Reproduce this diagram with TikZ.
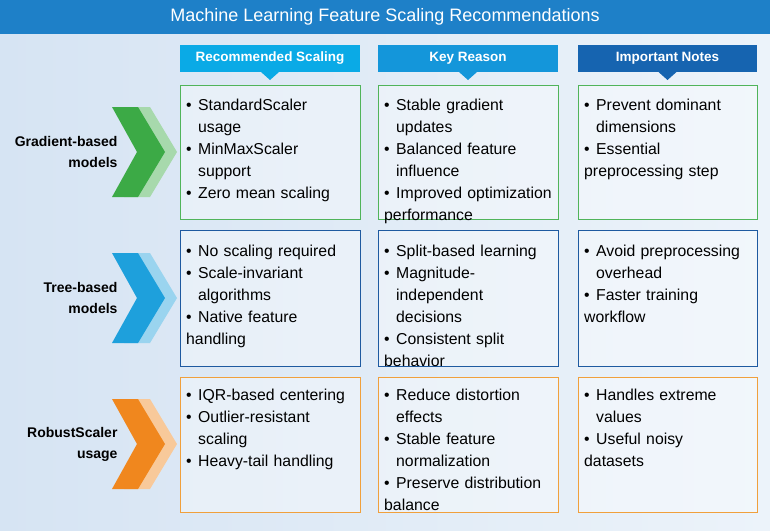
\documentclass[tikz,border=0pt]{standalone}
\usepackage{fontspec}
\setmainfont{Liberation Sans}
\usetikzlibrary{positioning}
\definecolor{titleBlue}{RGB}{30,128,200}
\definecolor{headA}{RGB}{10,170,230}
\definecolor{headB}{RGB}{20,150,218}
\definecolor{headC}{RGB}{22,100,176}
\definecolor{rowGreen}{RGB}{80,180,90}
\definecolor{rowBlue}{RGB}{30,90,160}
\definecolor{rowOrange}{RGB}{240,160,60}
\definecolor{chevGreen}{RGB}{60,170,70}
\definecolor{chevBlue}{RGB}{30,160,220}
\definecolor{chevOrange}{RGB}{240,135,30}
\definecolor{bgLeft}{RGB}{214,228,243}
\definecolor{bgRight}{RGB}{236,243,250}
\tikzstyle{cellBox} = [fill=white, fill opacity=.35, line width=1pt]
\tikzstyle{cellText} = [anchor=north west, align=left, text width=174pt, font=\fontsize{15.8pt}{22pt}\selectfont, inner sep=0pt]
\tikzstyle{headText} = [text=white, font=\bfseries\fontsize{13.5pt}{16pt}\selectfont]
\tikzstyle{rowLabel} = [anchor=east, align=right, font=\bfseries\fontsize{14pt}{21pt}\selectfont]
\newcommand{\bul}{\par\hangindent=12pt\hangafter=1\makebox[12pt][l]{\textbullet}}
\newcommand{\chevron}[2]{
  \fill [#2!45] (124,#1-45) -- (150,#1-45) -- (177,#1) -- (150,#1+45) -- (124,#1+45) -- (149,#1) -- cycle;
  \fill [#2] (112,#1-45) -- (138,#1-45) -- (165,#1) -- (138,#1+45) -- (112,#1+45) -- (137,#1) -- cycle;
}
\newcommand{\header}[4]{
  \fill [#3] (#1,45) rectangle (#2,72);
  \fill [#3] ({(#1+#2)/2-9},72) -- ({(#1+#2)/2},80) -- ({(#1+#2)/2+9},72) -- cycle;
  \node [headText] (h#3) at ({(#1+#2)/2},58.5) {#4};
}
\begin{document}
\begin{tikzpicture}[x=1pt, y=-1pt]
  \shade [left color=bgLeft, right color=bgRight] (0,0) rectangle (770,530);
  \fill [titleBlue] (0,0) rectangle (770,34);
  \node [text=white, font=\fontsize{18pt}{20pt}\selectfont] (title) at (385,17) {Machine Learning Feature Scaling Recommendations};

  \header{180}{360}{headA}{Recommended Scaling}
  \header{378}{558}{headB}{Key Reason}
  \header{578}{757}{headC}{Important Notes}

  % row boxes
  \foreach \top/\bot/\col in {85/219/rowGreen, 230/366/rowBlue, 377/512/rowOrange} {
    \foreach \left/\right in {180/360, 378/558, 578/757} {
      \draw [cellBox, draw=\col] (\left,\top) rectangle (\right,\bot);
    }
  }

  % chevrons
  \chevron{152}{chevGreen}
  \chevron{298}{chevBlue}
  \chevron{444}{chevOrange}
  \node [rowLabel] (lab1) at (121,152) {Gradient-based\\models};
  \node [rowLabel] (lab2) at (121,298) {Tree-based\\models};
  \node [rowLabel] (lab3) at (121,444) {RobustScaler\\usage};

  % row 1
  \node [cellText] (a1) at (186,88) {\bul StandardScaler\newline usage\bul MinMaxScaler\newline support\bul Zero mean scaling};
  \node [cellText] (b1) at (384,88) {\bul Stable gradient\newline updates\bul Balanced feature\newline influence\bul Improved optimization\newline performance};
  \node [cellText] (c1) at (584,88) {\bul Prevent dominant\newline dimensions\bul Essential\newline preprocessing step};
  % row 2
  \node [cellText] (a2) at (186,234) {\bul No scaling required\bul Scale-invariant\newline algorithms\bul Native feature\newline handling};
  \node [cellText] (b2) at (384,234) {\bul Split-based learning\bul Magnitude-\newline independent\newline decisions\bul Consistent split\newline behavior};
  \node [cellText] (c2) at (584,234) {\bul Avoid preprocessing\newline overhead\bul Faster training\newline workflow};
  % row 3
  \node [cellText] (a3) at (186,378) {\bul IQR-based centering\bul Outlier-resistant\newline scaling\bul Heavy-tail handling};
  \node [cellText] (b3) at (384,378) {\bul Reduce distortion\newline effects\bul Stable feature\newline normalization\bul Preserve distribution\newline balance};
  \node [cellText] (c3) at (584,378) {\bul Handles extreme\newline values\bul Useful noisy\newline datasets};
\end{tikzpicture}
\end{document}
